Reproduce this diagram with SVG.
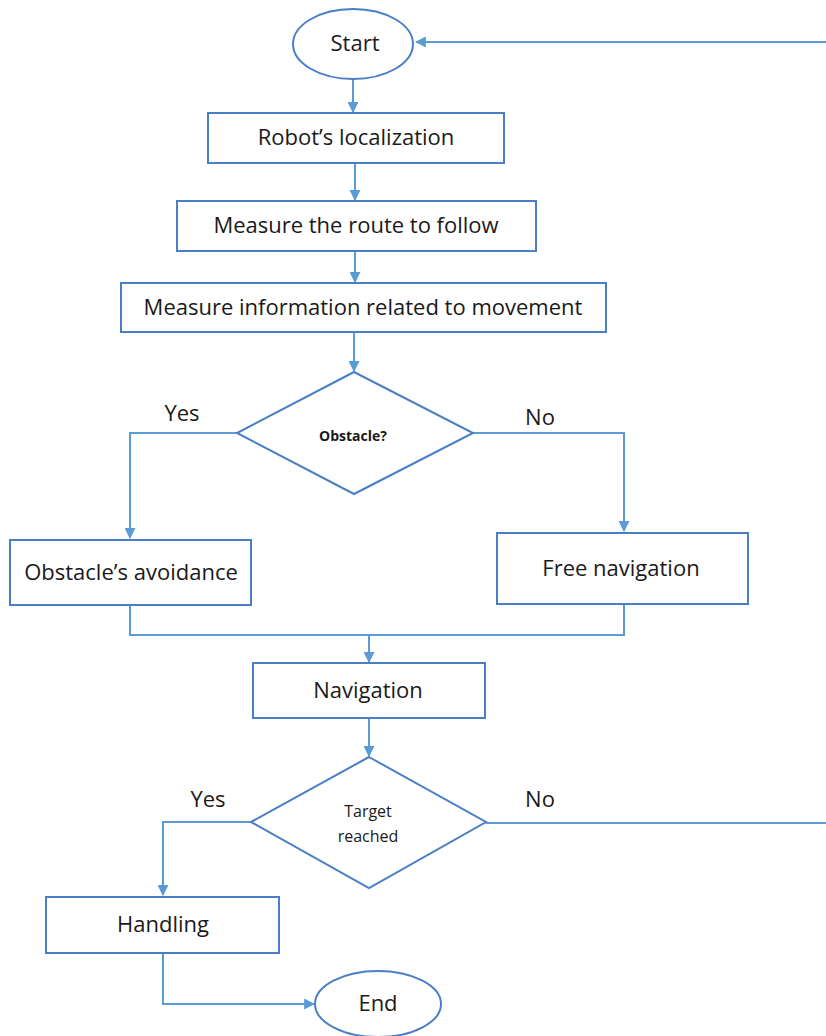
<svg xmlns="http://www.w3.org/2000/svg" width="826" height="1036" viewBox="0 0 826 1036">
  <style>
    .shape { fill: #ffffff; stroke: #4a7fc6; stroke-width: 2; }
    .wire { fill: none; stroke: #5b9bd5; stroke-width: 2; }
    .lbl { font-family: "Open Sans", "Liberation Sans", sans-serif; font-size: 22px; fill: #1a1a1a; text-anchor: middle; }
    .small { font-size: 16px; }
    .bold { font-size: 14px; font-weight: bold; }
  </style>
  <defs>
    <marker id="arrow" viewBox="0 0 10 10" refX="9" refY="5" markerWidth="5.5" markerHeight="5.5" orient="auto" markerUnits="strokeWidth">
      <path d="M0,0 L10,5 L0,10 z" fill="#5b9bd5"/>
    </marker>
  </defs>
  <rect width="826" height="1036" fill="#ffffff"/>

  <g id="connectors">
    <path class="wire" d="M826,42 H416" marker-end="url(#arrow)"/>
    <path class="wire" d="M353,79 V112" marker-end="url(#arrow)"/>
    <path class="wire" d="M355,163 V200" marker-end="url(#arrow)"/>
    <path class="wire" d="M355,251 V282" marker-end="url(#arrow)"/>
    <path class="wire" d="M354,332 V371" marker-end="url(#arrow)"/>
    <path class="wire" d="M237,433 H130 V538" marker-end="url(#arrow)"/>
    <path class="wire" d="M473,433 H624 V531" marker-end="url(#arrow)"/>
    <path class="wire" d="M130,605 V635 H624 V604"/>
    <path class="wire" d="M369,635 V662" marker-end="url(#arrow)"/>
    <path class="wire" d="M369,718 V756" marker-end="url(#arrow)"/>
    <path class="wire" d="M251,822 H163 V895" marker-end="url(#arrow)"/>
    <path class="wire" d="M486,823 H826"/>
    <path class="wire" d="M163,953 V1004 H314" marker-end="url(#arrow)"/>
  </g>

  <g id="start">
    <ellipse class="shape" cx="353" cy="44" rx="60" ry="35"/>
    <text class="lbl" x="355" y="51">Start</text>
  </g>
  <g id="localization">
    <rect class="shape" x="208" y="113" width="296" height="50"/>
    <text class="lbl" x="356" y="145">Robot’s localization</text>
  </g>
  <g id="route">
    <rect class="shape" x="177" y="201" width="359" height="50"/>
    <text class="lbl" x="356" y="233">Measure the route to follow</text>
  </g>
  <g id="movement-info">
    <rect class="shape" x="121" y="283" width="485" height="49"/>
    <text class="lbl" x="363" y="315">Measure information related to movement</text>
  </g>
  <g id="obstacle-check">
    <polygon class="shape" points="354,372 473,433 354,494 237,433"/>
    <text class="lbl bold" x="353" y="441">Obstacle?</text>
    <text class="lbl" x="182" y="421">Yes</text>
    <text class="lbl" x="540" y="425">No</text>
  </g>
  <g id="avoidance">
    <rect class="shape" x="10" y="540" width="241" height="65"/>
    <text class="lbl" x="131" y="580">Obstacle’s avoidance</text>
  </g>
  <g id="free-navigation">
    <rect class="shape" x="497" y="533" width="251" height="71"/>
    <text class="lbl" x="621" y="576">Free navigation</text>
  </g>
  <g id="navigation">
    <rect class="shape" x="253" y="663" width="232" height="55"/>
    <text class="lbl" x="368" y="698">Navigation</text>
  </g>
  <g id="target-check">
    <polygon class="shape" points="369,757 486,822 369,888 251,822"/>
    <text class="lbl small" x="368" y="817">Target</text>
    <text class="lbl small" x="368" y="842">reached</text>
    <text class="lbl" x="208" y="807">Yes</text>
    <text class="lbl" x="540" y="807">No</text>
  </g>
  <g id="handling">
    <rect class="shape" x="46" y="897" width="233" height="56"/>
    <text class="lbl" x="163" y="932">Handling</text>
  </g>
  <g id="end">
    <ellipse class="shape" cx="378" cy="1004" rx="63" ry="33"/>
    <text class="lbl" x="378" y="1011">End</text>
  </g>
</svg>
